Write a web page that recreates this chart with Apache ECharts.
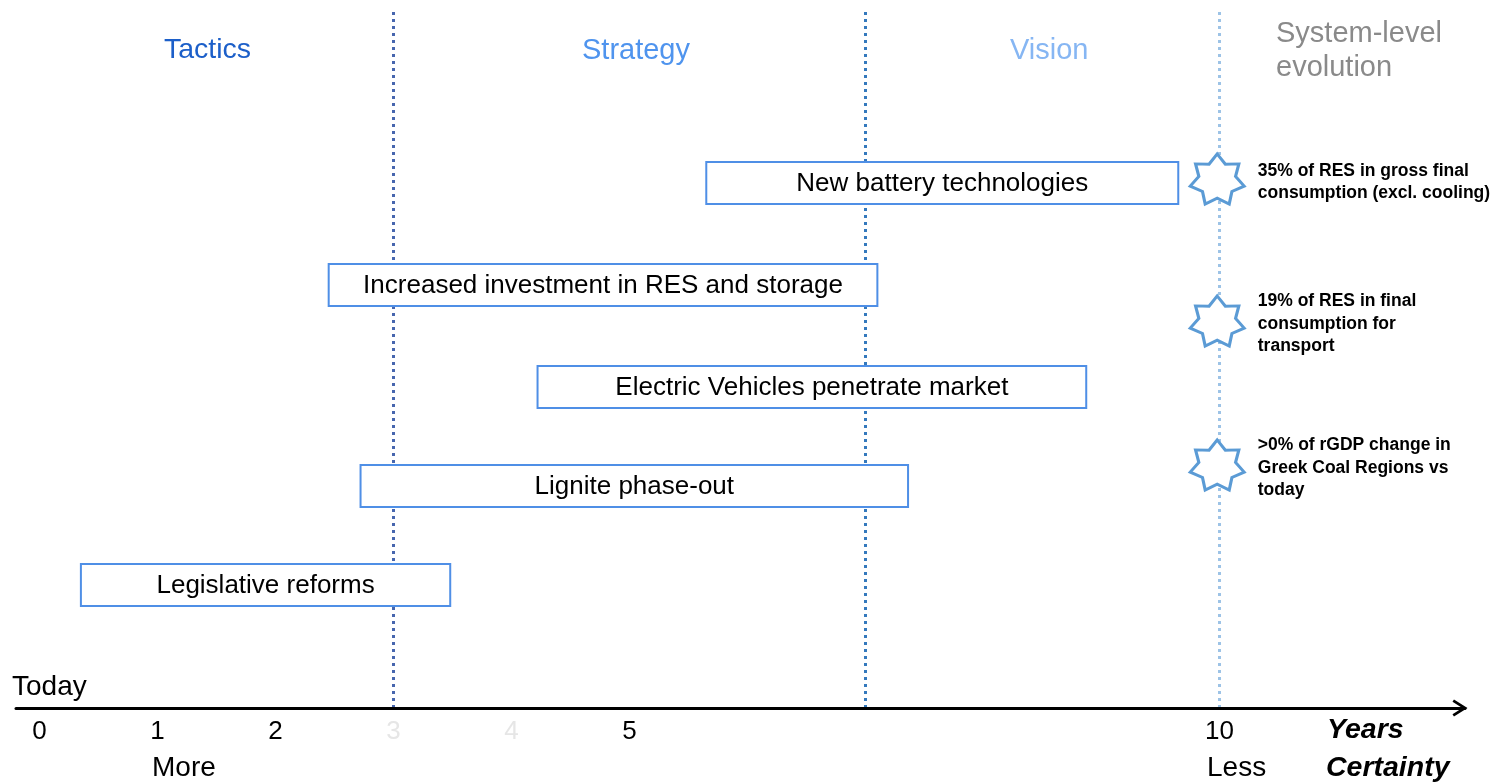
<!DOCTYPE html>
<html>
<head>
<meta charset="utf-8">
<title>Timeline</title>
<script src="https://cdn.jsdelivr.net/npm/echarts@6/dist/echarts.min.js"></script>
<style>
  html, body { margin: 0; padding: 0; background: #fff; }
  #chart { width: 1503px; height: 783px; }
</style>
</head>
<body>
<div id="chart"></div>
<script>
// timeline data (x = years from today, row = vertical slot)
const barNames = [
  "New battery technologies",
  "Increased investment in RES and storage",
  "Electric Vehicles penetrate market",
  "Lignite phase-out",
  "Legislative reforms"
];
const barStart = [5.65, 2.45, 4.22, 2.72, 0.35];
const barEnd = [9.65, 7.10, 8.87, 7.36, 3.48];
const barRow = [5.25, 4.23, 3.21, 2.22, 1.23];

const starYear = [9.98, 9.98, 9.98];
const starRow = [5.29, 3.87, 2.43];
const starTexts = [
  "35% of RES in gross final\nconsumption (excl. cooling)",
  "19% of RES in final\nconsumption for\ntransport",
  ">0% of rGDP change in\nGreek Coal Regions vs\ntoday"
];

const phaseBounds = [3, 7, 10];
const phaseColors = ["#4766ae", "#3479bd", "#9dc3e6"];

const tickValues = [0, 1, 2, 3, 4, 5, 10];
const fadedTicks = [3, 4];

const FONT = '"Liberation Sans", Arial, sans-serif';

// 7-point star outline
function starPath(points, outer, inner) {
  let d = "";
  for (let i = 0; i < points * 2; i++) {
    const r = i % 2 === 0 ? outer : inner;
    const a = -Math.PI / 2 + (i * Math.PI) / points;
    const x = (50 + r * Math.cos(a)).toFixed(2);
    const y = (50 + r * Math.sin(a)).toFixed(2);
    d += (i === 0 ? "M" : "L") + x + " " + y + " ";
  }
  return "path://" + d + "Z";
}

const chart = echarts.init(document.getElementById("chart"));

const option = {
  animation: false,
  grid: { left: 16, right: 38, top: 8, bottom: 75 },
  xAxis: {
    type: "value",
    min: -0.2,
    max: 12.08,
    splitLine: { show: false },
    axisTick: { show: false },
    axisLine: {
      show: true,
      onZero: false,
      // open chevron head, drawn pointing up (echarts rotates it along the axis)
      symbol: ["none", "path://M0 11 L7 0 L14 11 L12 12.2 L7 4.2 L2 12.2 Z"],
      symbolSize: [20, 15],
      symbolOffset: [0, -5],
      lineStyle: { color: "#000", width: 3 }
    },
    axisLabel: {
      customValues: tickValues,
      fontSize: 26,
      fontFamily: FONT,
      margin: 11,
      formatter: (v) => (fadedTicks.indexOf(Number(v)) >= 0 ? "{f|" + v + "}" : "{n|" + v + "}"),
      rich: {
        n: { fontSize: 26, fontFamily: FONT, color: "#000" },
        f: { fontSize: 26, fontFamily: FONT, color: "#e6e6e6" }
      }
    }
  },
  yAxis: { type: "value", min: 0, max: 7, show: false },
  graphic: [
    { type: "text", left: 164, top: 36, style: { text: "Tactics", font: "28.5px " + FONT, fill: "#1c5fc9" } },
    { type: "text", left: 582, top: 36, style: { text: "Strategy", font: "29px " + FONT, fill: "#4f94ee" } },
    { type: "text", left: 1010, top: 36, style: { text: "Vision", font: "29px " + FONT, fill: "#86b6f3" } },
    { type: "text", left: 1276, top: 17, style: { text: "System-level\nevolution", font: "29px " + FONT, fill: "#8a8a8a", lineHeight: 34 } },
    { type: "text", left: 12, top: 673, style: { text: "Today", font: "28px " + FONT, fill: "#000" } },
    { type: "text", left: 152, top: 754, style: { text: "More", font: "28px " + FONT, fill: "#000" } },
    { type: "text", left: 1207, top: 754, style: { text: "Less", font: "28px " + FONT, fill: "#000" } },
    { type: "text", left: 1327, top: 716, style: { text: "Years", font: "italic bold 28.5px " + FONT, fill: "#000" } },
    { type: "text", left: 1326, top: 754, style: { text: "Certainty", font: "italic bold 28.5px " + FONT, fill: "#000" } }
  ],
  series: [
    {
      // dotted phase boundaries
      type: "line",
      data: [],
      z: 0,
      markLine: {
        silent: true,
        z: 0,
        symbol: ["none", "none"],
        label: { show: false },
        data: phaseBounds.map((x, i) => ({
          xAxis: x,
          lineStyle: { color: phaseColors[i], width: 3, type: [3, 4] }
        }))
      }
    },
    {
      type: "custom",
      z: 10,
      encode: { x: [0, 1], y: 2 },
      data: barNames.map((n, i) => [barStart[i], barEnd[i], barRow[i], i]),
      renderItem: function (params, api) {
        const s = api.coord([api.value(0), api.value(2)]);
        const e = api.coord([api.value(1), api.value(2)]);
        const h = 42;
        return {
          type: "group",
          children: [
            {
              type: "rect",
              shape: { x: s[0], y: s[1] - h / 2, width: e[0] - s[0], height: h },
              style: { fill: "#fff", stroke: "#4f8fe6", lineWidth: 2 }
            },
            {
              type: "text",
              style: {
                text: barNames[api.value(3)],
                x: (s[0] + e[0]) / 2,
                y: s[1] + 1,
                align: "center",
                verticalAlign: "middle",
                font: "26px " + FONT,
                fill: "#000"
              }
            }
          ]
        };
      }
    },
    {
      type: "scatter",
      z: 10,
      symbol: starPath(7, 50, 34),
      symbolSize: [54, 50],
      itemStyle: { color: "#fff", borderColor: "#5b9bd5", borderWidth: 3, opacity: 1 },
      data: starRow.map((y, i) => [starYear[i], y]),
      label: {
        show: true,
        position: "right",
        distance: 12,
        offset: [0, 3],
        fontFamily: FONT,
        fontWeight: "bold",
        fontSize: 17.5,
        lineHeight: 22.5,
        color: "#000",
        formatter: (p) => starTexts[p.dataIndex]
      }
    }
  ]
};

chart.setOption(option);
</script>
</body>
</html>
